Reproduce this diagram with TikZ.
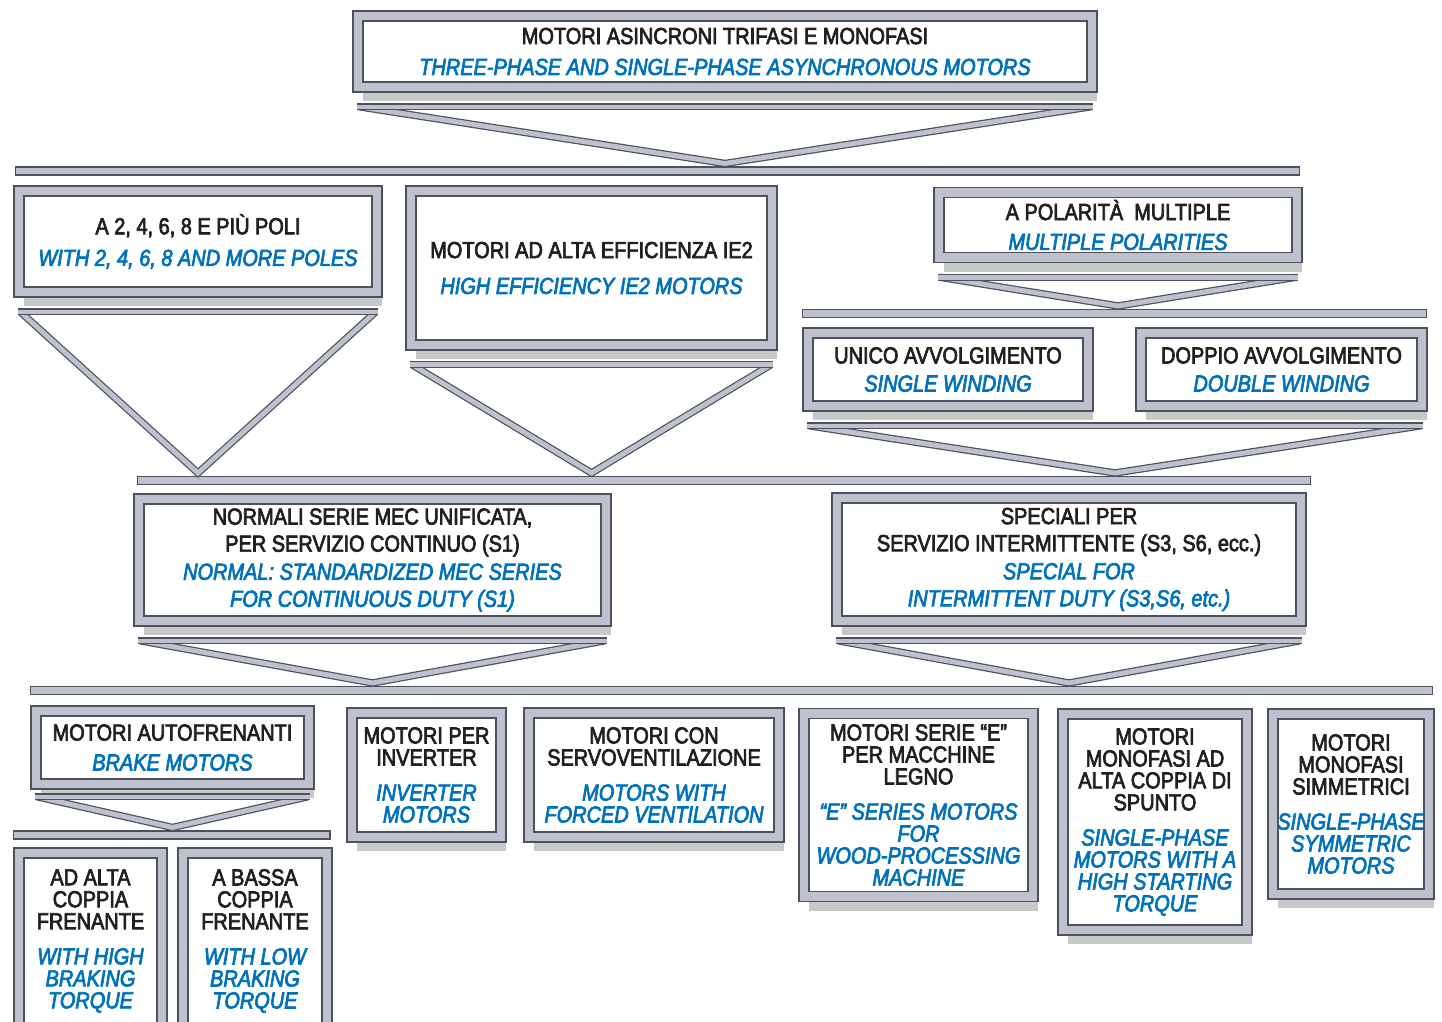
\documentclass[tikz,border=0pt]{standalone}
\usepackage{fontspec}
\setmainfont[FakeStretch=0.86, FakeBold=3]{Liberation Sans}
\usepackage{tikz}
\usetikzlibrary{positioning,calc,shadows}
\definecolor{frame}{RGB}{190,194,207}
\definecolor{edge}{RGB}{78,80,94}
\definecolor{eng}{RGB}{0,114,188}
\definecolor{ita}{RGB}{35,31,32}
\newcommand{\en}[1]{{\color{eng}\itshape #1}}
\tikzstyle{block} = [draw=edge, line width=0.9pt, double=frame, double distance=4.8pt, fill=white, inner sep=0pt, align=center, text=ita, drop shadow={shadow xshift=3pt, shadow yshift=-8pt, opacity=0.3, fill=black!70}]
\tikzstyle{big} = [font=\fontsize{13.2}{16}\selectfont]
\tikzstyle{small} = [font=\fontsize{13.2}{12.5}\selectfont]
\tikzstyle{bar} = [draw=edge, line width=0.6pt, fill=frame, minimum height=0.16cm, inner sep=0pt]
\tikzstyle{lip} = [draw=edge, line width=0.7pt, double=frame, double distance=2.6pt]
\tikzstyle{vee} = [draw=edge, line width=0.7pt, double=frame, double distance=2.8pt, fill=white, line join=miter]

\begin{document}
\begin{tikzpicture}[auto, x=0.02cm, y=-0.02cm]
	\fill [white] (0,0) rectangle (1442,1021);
	\useasboundingbox (0,0) rectangle (1442,1021);
	\node (bar1) [bar, minimum width=25.7cm] at (657.5,171) {};
	\node (bar2) [bar, minimum width=23.48cm] at (724,480.5) {};
	\node (bar3) [bar, minimum width=28.06cm] at (731.5,690.5) {};
	\node (bar4) [bar, minimum width=6.34cm] at (171.5,835) {};
	\node (bar5) [bar, minimum width=12.5cm] at (1114.5,313.5) {};
	\node (top) [block, big, minimum width=14.68cm, minimum height=1.42cm] at (725,51.5) {MOTORI ASINCRONI TRIFASI E MONOFASI\\[1.6pt]\en{THREE-PHASE AND SINGLE-PHASE ASYNCHRONOUS MOTORS}};
	\node (poli) [block, big, minimum width=7.16cm, minimum height=2.02cm] at (198,241.5) {A 2, 4, 6, 8 E PIÙ POLI\\[2pt]\en{WITH 2, 4, 6, 8 AND MORE POLES}};
	\node (ie2) [block, big, minimum width=7.22cm, minimum height=3.08cm] at (591.5,268) {MOTORI AD ALTA EFFICIENZA IE2\\[4.4pt]\en{HIGH EFFICIENCY IE2 MOTORS}};
	\node (pol) [block, big, minimum width=7.16cm, minimum height=1.3cm] at (1118,225) {A POLARITÀ\ \ MULTIPLE\\[1pt]\en{MULTIPLE POLARITIES}};
	\node (uni) [block, big, minimum width=5.6cm, minimum height=1.46cm] at (948,369.5) {UNICO AVVOLGIMENTO\\\en{SINGLE WINDING}};
	\node (dop) [block, big, minimum width=5.62cm, minimum height=1.46cm] at (1281.5,369.5) {DOPPIO AVVOLGIMENTO\\\en{DOUBLE WINDING}};
	\node (norm) [block, big, minimum width=9.34cm, minimum height=2.44cm] at (372.5,560) {NORMALI SERIE MEC UNIFICATA,\\[-0.6pt]PER SERVIZIO CONTINUO (S1)\\\en{NORMAL: STANDARDIZED MEC SERIES}\\[-0.6pt]\en{FOR CONTINUOUS DUTY (S1)}};
	\node (spec) [block, big, minimum width=9.28cm, minimum height=2.46cm] at (1069,559.5) {SPECIALI PER\\[-0.6pt]SERVIZIO INTERMITTENTE (S3, S6, ecc.)\\\en{SPECIAL FOR}\\[-0.6pt]\en{INTERMITTENT DUTY (S3,S6, etc.)}};
	\node (brk) [block, big, minimum width=5.46cm, minimum height=1.46cm] at (172.5,747.5) {MOTORI AUTOFRENANTI\\[1pt]\en{BRAKE MOTORS}};
	\node (alta) [block, small, minimum width=2.86cm, minimum height=3.52cm] at (90.5,941) {AD ALTA\\COPPIA\\FRENANTE\\[7.5pt]\en{WITH HIGH}\\\en{BRAKING}\\\en{TORQUE}};
	\node (bassa) [block, small, minimum width=2.88cm, minimum height=3.52cm] at (255,941) {A BASSA\\COPPIA\\FRENANTE\\[7.5pt]\en{WITH LOW}\\\en{BRAKING}\\\en{TORQUE}};
	\node (inv) [block, small, minimum width=2.98cm, minimum height=2.48cm] at (426.5,775) {MOTORI PER\\INVERTER\\[7.5pt]\en{INVERTER}\\\en{MOTORS}};
	\node (servo) [block, small, minimum width=5cm, minimum height=2.48cm] at (654,775) {MOTORI CON\\SERVOVENTILAZIONE\\[7.5pt]\en{MOTORS WITH}\\\en{FORCED VENTILATION}};
	\node (legno) [block, small, minimum width=4.58cm, minimum height=3.66cm] at (918.5,805) {MOTORI SERIE “E”\\PER MACCHINE\\LEGNO\\[7.5pt]\en{“E” SERIES MOTORS}\\\en{FOR}\\\en{WOOD-PROCESSING}\\\en{MACHINE}};
	\node (mono) [block, small, minimum width=3.68cm, minimum height=4.32cm] at (1155,822) {MOTORI\\MONOFASI AD\\ALTA COPPIA DI\\SPUNTO\\[7.5pt]\en{SINGLE-PHASE}\\\en{MOTORS WITH A}\\\en{HIGH STARTING}\\\en{TORQUE}};
	\node (simm) [block, small, minimum width=3.12cm, minimum height=3.6cm] at (1351,804) {MOTORI\\MONOFASI\\SIMMETRICI\\[7.5pt]\en{SINGLE-PHASE}\\\en{SYMMETRIC}\\\en{MOTORS}};
	\coordinate (pair) at ($(uni.south west)!0.5!(dop.south east)$);
	\draw [vee] ($(top.south west)+(2,19)$) -- ($(top.south |- bar1.north)+(0,-3)$) -- ($(top.south east)+(-2,19)$);
	\draw [lip] ($(top.south west)+(0,19)$) -- ($(top.south east)+(0,19)$);
	\draw [vee] ($(poli.south west)+(2,19)$) -- ($(poli.south |- bar2.north)+(0,-3)$) -- ($(poli.south east)+(-2,19)$);
	\draw [lip] ($(poli.south west)+(0,19)$) -- ($(poli.south east)+(0,19)$);
	\draw [vee] ($(ie2.south west)+(2,19)$) -- ($(ie2.south |- bar2.north)+(0,-3)$) -- ($(ie2.south east)+(-2,19)$);
	\draw [lip] ($(ie2.south west)+(0,19)$) -- ($(ie2.south east)+(0,19)$);
	\draw [vee] ($(pol.south west)+(2,19)$) -- ($(pol.south |- bar5.north)+(0,-3)$) -- ($(pol.south east)+(-2,19)$);
	\draw [lip] ($(pol.south west)+(0,19)$) -- ($(pol.south east)+(0,19)$);
	\draw [vee] ($(uni.south west)+(2,19)$) -- ($(pair |- bar2.north)+(0,-3)$) -- ($(dop.south east)+(-2,19)$);
	\draw [lip] ($(uni.south west)+(0,19)$) -- ($(dop.south east)+(0,19)$);
	\draw [vee] ($(norm.south west)+(2,19)$) -- ($(norm.south |- bar3.north)+(0,-3)$) -- ($(norm.south east)+(-2,19)$);
	\draw [lip] ($(norm.south west)+(0,19)$) -- ($(norm.south east)+(0,19)$);
	\draw [vee] ($(spec.south west)+(2,19)$) -- ($(spec.south |- bar3.north)+(0,-3)$) -- ($(spec.south east)+(-2,19)$);
	\draw [lip] ($(spec.south west)+(0,19)$) -- ($(spec.south east)+(0,19)$);
	\draw [vee] ($(brk.south west)+(2,12)$) -- ($(brk.south |- bar4.north)+(0,-3)$) -- ($(brk.south east)+(-2,12)$);
	\draw [lip] ($(brk.south west)+(0,12)$) -- ($(brk.south east)+(0,12)$);
\end{tikzpicture}
\end{document}
